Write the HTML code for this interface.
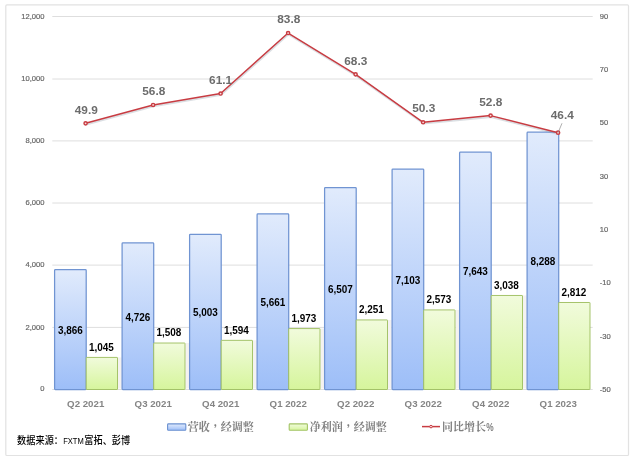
<!DOCTYPE html>
<html lang="zh-CN"><head><meta charset="utf-8"><title>chart</title>
<style>
html,body{margin:0;padding:0;background:#fff;}
body{width:635px;height:462px;overflow:hidden;}
svg{display:block;}
text{font-family:"Liberation Sans","Noto Sans CJK SC",sans-serif;}
.ax{font-size:7.6px;fill:#666;stroke:#666;stroke-width:0.18px;}
.cat{font-size:9.7px;fill:#858585;font-weight:bold;}
.dl{font-size:9.95px;fill:#000;font-weight:bold;}
.ll{font-size:11.85px;fill:#6c6c6c;font-weight:bold;}
.lg{font-size:11px;fill:#7f7f7f;font-weight:bold;font-family:"Liberation Serif","Noto Serif CJK SC",serif;}
.src{font-size:10.1px;fill:#000;font-weight:500;}
.srcl{font-size:9.2px;fill:#000;}
.tc{font-family:"Liberation Serif","Noto Serif CJK TC",serif;}
.pc{font-family:"Liberation Sans",sans-serif;font-size:10.6px;font-weight:bold;fill:#7f7f7f;}
</style></head><body>
<svg width="635" height="462" viewBox="0 0 635 462">
<defs>
<linearGradient id="gb" x1="0" y1="0" x2="0" y2="1"><stop offset="0" stop-color="#e1ebfc"/><stop offset="1" stop-color="#9dbef8"/></linearGradient>
<linearGradient id="gg" x1="0" y1="0" x2="0" y2="1"><stop offset="0" stop-color="#f1fbdc"/><stop offset="1" stop-color="#d6f59c"/></linearGradient>
<filter id="bl" x="-5%" y="-5%" width="110%" height="110%"><feGaussianBlur stdDeviation="0.7"/></filter>
</defs>
<rect x="0" y="0" width="635" height="462" fill="#fff"/>
<rect x="5.8" y="4.9" width="622.7" height="450.6" rx="1" fill="#fff" stroke="#e2e2e2" stroke-width="1.2"/>

<line x1="52.3" y1="16.50" x2="592.7" y2="16.50" stroke="#dedede" stroke-width="1"/>
<text class="ax" transform="translate(44.50,18.80) scale(1,1.02)" text-anchor="end">12,000</text>
<line x1="52.3" y1="79.00" x2="592.7" y2="79.00" stroke="#dedede" stroke-width="1"/>
<text class="ax" transform="translate(44.50,80.80) scale(1,1.02)" text-anchor="end">10,000</text>
<line x1="52.3" y1="140.90" x2="592.7" y2="140.90" stroke="#dedede" stroke-width="1"/>
<text class="ax" transform="translate(44.50,142.60) scale(1,1.02)" text-anchor="end">8,000</text>
<line x1="52.3" y1="203.00" x2="592.7" y2="203.00" stroke="#dedede" stroke-width="1"/>
<text class="ax" transform="translate(44.50,204.60) scale(1,1.02)" text-anchor="end">6,000</text>
<line x1="52.3" y1="265.10" x2="592.7" y2="265.10" stroke="#dedede" stroke-width="1"/>
<text class="ax" transform="translate(44.50,267.40) scale(1,1.02)" text-anchor="end">4,000</text>
<line x1="52.3" y1="327.40" x2="592.7" y2="327.40" stroke="#dedede" stroke-width="1"/>
<text class="ax" transform="translate(44.50,329.70) scale(1,1.02)" text-anchor="end">2,000</text>
<line x1="52.3" y1="389.50" x2="592.7" y2="389.50" stroke="#dedede" stroke-width="1"/>
<text class="ax" transform="translate(44.50,391.40) scale(1,1.02)" text-anchor="end">0</text>
<text class="ax" transform="translate(599.80,18.80) scale(1,1.02)">90</text>
<text class="ax" transform="translate(599.80,72.09) scale(1,1.02)">70</text>
<text class="ax" transform="translate(599.80,125.37) scale(1,1.02)">50</text>
<text class="ax" transform="translate(599.80,178.66) scale(1,1.02)">30</text>
<text class="ax" transform="translate(599.80,231.94) scale(1,1.02)">10</text>
<text class="ax" transform="translate(599.80,285.23) scale(1,1.02)">-10</text>
<text class="ax" transform="translate(599.80,338.51) scale(1,1.02)">-30</text>
<text class="ax" transform="translate(599.80,391.80) scale(1,1.02)">-50</text>
<rect x="118.00" y="357.42" width="3.60" height="31.08" fill="#f4f2f1"/>
<rect x="54.60" y="269.63" width="31.60" height="119.87" rx="0.8" fill="url(#gb)" stroke="#7094d2" stroke-width="1.25"/>
<rect x="86.20" y="357.42" width="31.30" height="32.08" rx="0.4" fill="url(#gg)" stroke="#a0c063" stroke-width="0.95"/>
<rect x="185.50" y="343.03" width="3.60" height="45.47" fill="#f4f2f1"/>
<rect x="122.10" y="242.90" width="31.60" height="146.60" rx="0.8" fill="url(#gb)" stroke="#7094d2" stroke-width="1.25"/>
<rect x="153.70" y="343.03" width="31.30" height="46.47" rx="0.4" fill="url(#gg)" stroke="#a0c063" stroke-width="0.95"/>
<rect x="253.00" y="340.35" width="3.60" height="48.15" fill="#f4f2f1"/>
<rect x="189.60" y="234.29" width="31.60" height="155.21" rx="0.8" fill="url(#gb)" stroke="#7094d2" stroke-width="1.25"/>
<rect x="221.20" y="340.35" width="31.30" height="49.15" rx="0.4" fill="url(#gg)" stroke="#a0c063" stroke-width="0.95"/>
<rect x="320.50" y="328.57" width="3.60" height="59.93" fill="#f4f2f1"/>
<rect x="257.10" y="213.84" width="31.60" height="175.66" rx="0.8" fill="url(#gb)" stroke="#7094d2" stroke-width="1.25"/>
<rect x="288.70" y="328.57" width="31.30" height="60.93" rx="0.4" fill="url(#gg)" stroke="#a0c063" stroke-width="0.95"/>
<rect x="388.00" y="319.93" width="3.60" height="68.57" fill="#f4f2f1"/>
<rect x="324.60" y="187.54" width="31.60" height="201.96" rx="0.8" fill="url(#gb)" stroke="#7094d2" stroke-width="1.25"/>
<rect x="356.20" y="319.93" width="31.30" height="69.57" rx="0.4" fill="url(#gg)" stroke="#a0c063" stroke-width="0.95"/>
<rect x="455.50" y="309.92" width="3.60" height="78.58" fill="#f4f2f1"/>
<rect x="392.10" y="169.02" width="31.60" height="220.48" rx="0.8" fill="url(#gb)" stroke="#7094d2" stroke-width="1.25"/>
<rect x="423.70" y="309.92" width="31.30" height="79.58" rx="0.4" fill="url(#gg)" stroke="#a0c063" stroke-width="0.95"/>
<rect x="523.00" y="295.47" width="3.60" height="93.03" fill="#f4f2f1"/>
<rect x="459.60" y="152.23" width="31.60" height="237.27" rx="0.8" fill="url(#gb)" stroke="#7094d2" stroke-width="1.25"/>
<rect x="491.20" y="295.47" width="31.30" height="94.03" rx="0.4" fill="url(#gg)" stroke="#a0c063" stroke-width="0.95"/>
<rect x="527.10" y="132.18" width="31.60" height="257.32" rx="0.8" fill="url(#gb)" stroke="#7094d2" stroke-width="1.25"/>
<rect x="558.70" y="302.49" width="31.30" height="87.01" rx="0.4" fill="url(#gg)" stroke="#a0c063" stroke-width="0.95"/>
<text class="dl" transform="translate(70.40,333.92) scale(1,1.05)" text-anchor="middle">3,866</text>
<text class="dl" transform="translate(101.45,350.72) scale(1,1.05)" text-anchor="middle">1,045</text>
<text class="cat" transform="translate(85.70,407.40) scale(1,1.02)" text-anchor="middle">Q2 2021</text>
<text class="dl" transform="translate(137.90,320.55) scale(1,1.05)" text-anchor="middle">4,726</text>
<text class="dl" transform="translate(168.95,336.33) scale(1,1.05)" text-anchor="middle">1,508</text>
<text class="cat" transform="translate(153.20,407.40) scale(1,1.02)" text-anchor="middle">Q3 2021</text>
<text class="dl" transform="translate(205.40,316.25) scale(1,1.05)" text-anchor="middle">5,003</text>
<text class="dl" transform="translate(236.45,333.65) scale(1,1.05)" text-anchor="middle">1,594</text>
<text class="cat" transform="translate(220.70,407.40) scale(1,1.02)" text-anchor="middle">Q4 2021</text>
<text class="dl" transform="translate(272.90,306.02) scale(1,1.05)" text-anchor="middle">5,661</text>
<text class="dl" transform="translate(303.95,321.87) scale(1,1.05)" text-anchor="middle">1,973</text>
<text class="cat" transform="translate(288.20,407.40) scale(1,1.02)" text-anchor="middle">Q1 2022</text>
<text class="dl" transform="translate(340.40,292.87) scale(1,1.05)" text-anchor="middle">6,507</text>
<text class="dl" transform="translate(371.45,313.23) scale(1,1.05)" text-anchor="middle">2,251</text>
<text class="cat" transform="translate(355.70,407.40) scale(1,1.02)" text-anchor="middle">Q2 2022</text>
<text class="dl" transform="translate(407.90,283.61) scale(1,1.05)" text-anchor="middle">7,103</text>
<text class="dl" transform="translate(438.95,303.22) scale(1,1.05)" text-anchor="middle">2,573</text>
<text class="cat" transform="translate(423.20,407.40) scale(1,1.02)" text-anchor="middle">Q3 2022</text>
<text class="dl" transform="translate(475.40,275.22) scale(1,1.05)" text-anchor="middle">7,643</text>
<text class="dl" transform="translate(506.45,288.77) scale(1,1.05)" text-anchor="middle">3,038</text>
<text class="cat" transform="translate(490.70,407.40) scale(1,1.02)" text-anchor="middle">Q4 2022</text>
<text class="dl" transform="translate(542.90,265.19) scale(1,1.05)" text-anchor="middle">8,288</text>
<text class="dl" transform="translate(573.95,295.79) scale(1,1.05)" text-anchor="middle">2,812</text>
<text class="cat" transform="translate(558.20,407.40) scale(1,1.02)" text-anchor="middle">Q1 2023</text>
<polyline fill="none" stroke="#7f8c99" stroke-opacity="0.28" stroke-width="2" filter="url(#bl)" transform="translate(0.4,1.3)" points="85.60,123.34 153.10,104.95 220.60,93.50 288.10,33.02 355.60,74.31 423.10,122.27 490.60,115.61 558.10,132.66"/>
<polyline fill="none" stroke="#c83c42" stroke-width="1.5" stroke-linejoin="round" points="85.60,123.34 153.10,104.95 220.60,93.50 288.10,33.02 355.60,74.31 423.10,122.27 490.60,115.61 558.10,132.66"/>
<circle cx="85.60" cy="123.34" r="1.6" fill="#fbdcdc" stroke="#c83c42" stroke-width="1.45"/>
<circle cx="153.10" cy="104.95" r="1.6" fill="#fbdcdc" stroke="#c83c42" stroke-width="1.45"/>
<circle cx="220.60" cy="93.50" r="1.6" fill="#fbdcdc" stroke="#c83c42" stroke-width="1.45"/>
<circle cx="288.10" cy="33.02" r="1.6" fill="#fbdcdc" stroke="#c83c42" stroke-width="1.45"/>
<circle cx="355.60" cy="74.31" r="1.6" fill="#fbdcdc" stroke="#c83c42" stroke-width="1.45"/>
<circle cx="423.10" cy="122.27" r="1.6" fill="#fbdcdc" stroke="#c83c42" stroke-width="1.45"/>
<circle cx="490.60" cy="115.61" r="1.6" fill="#fbdcdc" stroke="#c83c42" stroke-width="1.45"/>
<circle cx="558.10" cy="132.66" r="1.6" fill="#fbdcdc" stroke="#c83c42" stroke-width="1.45"/>
<text class="ll" transform="translate(86.30,113.74) scale(1,0.96)" text-anchor="middle">49.9</text>
<text class="ll" transform="translate(153.80,95.25) scale(1,0.96)" text-anchor="middle">56.8</text>
<text class="ll" transform="translate(220.60,83.50) scale(1,0.96)" text-anchor="middle">61.1</text>
<text class="ll" transform="translate(288.80,23.12) scale(1,0.96)" text-anchor="middle">83.8</text>
<text class="ll" transform="translate(355.80,64.91) scale(1,0.96)" text-anchor="middle">68.3</text>
<text class="ll" transform="translate(423.70,112.07) scale(1,0.96)" text-anchor="middle">50.3</text>
<text class="ll" transform="translate(490.80,106.31) scale(1,0.96)" text-anchor="middle">52.8</text>
<text class="ll" transform="translate(562.30,118.76) scale(1,0.96)" text-anchor="middle">46.4</text>
<line x1="558.10" y1="132.66" x2="562.00" y2="123.26" stroke="#8c8c8c" stroke-width="0.7"/>
<rect x="167.6" y="423.9" width="18.2" height="6.4" rx="0.8" fill="url(#gb)" stroke="#6a90d0" stroke-width="1.1"/>
<text class="lg" x="187.8" y="430.8">营收<tspan class="tc" lang="zh-TW">，</tspan>经调整</text>
<rect x="289.2" y="423.9" width="18.2" height="6.4" rx="0.8" fill="url(#gg)" stroke="#a3c465" stroke-width="1.1"/>
<text class="lg" x="309.7" y="430.8">净利润<tspan class="tc" lang="zh-TW">，</tspan>经调整</text>
<line x1="422" y1="426.6" x2="440" y2="426.6" stroke="#c83c42" stroke-width="1.5"/>
<circle cx="431" cy="426.6" r="1.3" fill="#fde8e8" stroke="#c83c42" stroke-width="1"/>
<text class="lg" x="442" y="430.8">同比增长</text>
<text class="pc" x="486.2" y="430.6" textLength="7.4" lengthAdjust="spacingAndGlyphs">%</text>
<text class="src" transform="translate(17.1,443.9) scale(0.91,1)">数据来源：</text>
<text class="srcl" x="63.2" y="443.7" textLength="20.6" lengthAdjust="spacingAndGlyphs">FXTM</text>
<text class="src" transform="translate(84.3,443.9) scale(0.91,1)">富拓、彭博</text>
</svg></body></html>
